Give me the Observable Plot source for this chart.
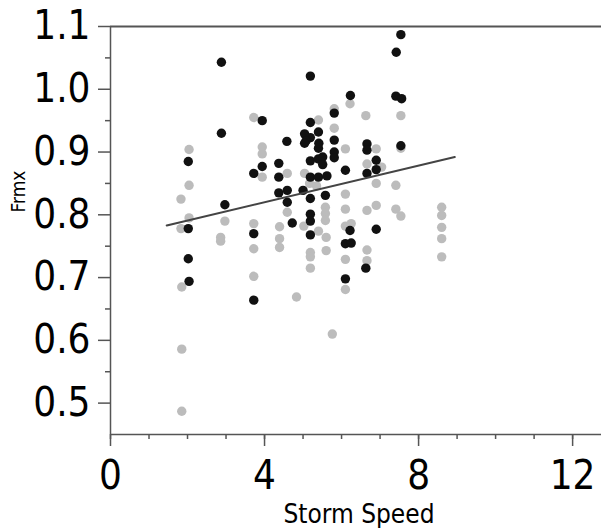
<!DOCTYPE html>
<html>
<head>
<meta charset="utf-8">
<script src="https://cdn.jsdelivr.net/npm/d3@7"></script>
<script src="https://cdn.jsdelivr.net/npm/@observablehq/plot@0.6"></script>
<style>
  html, body { margin: 0; padding: 0; background: #fff; }
</style>
</head>
<body>
<div id="chart"></div>
<script>
// Black points (Storm Speed, Frmx)
const blackX = [2.88, 3.94, 2.88, 4.58, 2.02, 3.94, 3.72, 4.37, 4.37, 2.97, 4.37, 4.59, 4.59, 2.02, 2.02, 2.04, 3.72, 3.72, 4.72,
  5.19, 6.23, 7.41, 7.56, 5.81, 5.19, 5.04, 5.19, 5.40, 5.08, 5.81, 6.66, 6.66, 5.40, 5.81, 5.81, 5.19, 5.40, 5.51, 5.51,
  6.10, 6.90, 6.90, 6.66, 5.19, 5.40, 5.62, 5.00, 5.19, 5.58, 5.19, 5.19, 5.19, 6.22, 6.10, 6.25, 6.10, 6.63, 6.90,
  7.54, 7.42, 7.54, 5.04, 5.41];
const blackY = [1.043, 0.950, 0.930, 0.917, 0.885, 0.877, 0.866, 0.882, 0.860, 0.816, 0.835, 0.839, 0.820, 0.778, 0.730, 0.694, 0.770, 0.664, 0.787,
  1.021, 0.990, 0.989, 0.985, 0.962, 0.947, 0.929, 0.923, 0.932, 0.918, 0.919, 0.913, 0.903, 0.906, 0.900, 0.891, 0.886, 0.889, 0.892, 0.880,
  0.871, 0.887, 0.872, 0.866, 0.860, 0.860, 0.862, 0.839, 0.826, 0.831, 0.801, 0.790, 0.768, 0.775, 0.754, 0.755, 0.698, 0.715, 0.777,
  1.087, 1.059, 0.910, 0.914, 0.914];

// Gray points
const grayX = [1.83, 1.83, 1.85, 1.85, 1.85, 2.04, 2.04, 2.04, 2.97, 2.86, 2.86, 3.72, 3.72, 3.72, 3.72, 3.94, 3.94, 3.94,
  4.39, 4.39, 4.39, 4.59, 4.59, 4.83, 5.04, 5.02, 5.19, 5.19, 5.19, 5.17, 5.40, 5.40, 5.35, 5.58, 5.58, 5.58, 5.60, 5.60, 5.76,
  5.81, 5.81, 6.10, 6.10, 6.10, 6.10, 6.10, 6.10, 6.22, 6.25, 6.63, 6.66, 6.66, 6.66, 6.66, 6.90, 6.90, 6.90, 7.04, 7.41, 7.41,
  7.54, 7.54, 7.54, 8.60, 8.60, 8.60, 8.60, 8.60];
const grayY = [0.825, 0.778, 0.685, 0.586, 0.487, 0.904, 0.847, 0.795, 0.790, 0.764, 0.758, 0.955, 0.786, 0.746, 0.702, 0.908, 0.897, 0.860,
  0.781, 0.762, 0.748, 0.866, 0.804, 0.669, 0.866, 0.782, 0.740, 0.733, 0.715, 0.850, 0.951, 0.774, 0.846, 0.812, 0.802, 0.791, 0.764, 0.743, 0.610,
  0.969, 0.938, 0.905, 0.833, 0.809, 0.782, 0.729, 0.681, 0.977, 0.786, 0.958, 0.881, 0.807, 0.744, 0.727, 0.905, 0.850, 0.815, 0.876, 0.847, 0.809,
  0.958, 0.906, 0.798, 0.812, 0.799, 0.780, 0.762, 0.733];

// Fitted line end points
const fitX = [1.46, 8.94];
const fitY = [0.783, 0.892];

// Axis ticks
const xTicks = [0, 4, 8, 12];
const xMinor = d3.range(0, 13);
const yTicks = [0.5, 0.6, 0.7, 0.8, 0.9, 1.0, 1.1];
const yMinor = [0.55, 0.65, 0.75, 0.85, 0.95, 1.05];

const axisColor = "#555";
const blackPts = blackX.map((x, i) => ({x, y: blackY[i]}));
const grayPts = grayX.map((x, i) => ({x, y: grayY[i]}));
const fitPts = fitX.map((x, i) => ({x, y: fitY[i]}));

const chart = Plot.plot({
  width: 601,
  height: 528,
  marginLeft: 110,
  marginRight: 0,
  marginTop: 26,
  marginBottom: 94,
  x: {domain: [0, 12.75]},
  y: {domain: [0.45, 1.1]},
  style: {fontFamily: "'DejaVu Sans Condensed', 'DejaVu Sans', sans-serif", background: "#fff", color: "#000"},
  marks: [
    Plot.dot(grayPts, {x: "x", y: "y", r: 4.7, fill: "#bcbcbc", stroke: "none"}),
    Plot.dot(blackPts, {x: "x", y: "y", r: 4.7, fill: "#111", stroke: "none"}),
    Plot.line(fitPts, {x: "x", y: "y", stroke: "#444", strokeWidth: 2}),
    Plot.ruleY([1.1], {stroke: axisColor, strokeWidth: 2}),
    Plot.ruleY([0.45], {stroke: axisColor, strokeWidth: 1.5}),
    Plot.ruleX([0], {stroke: axisColor, strokeWidth: 1.5}),
    Plot.axisX({ticks: xMinor, tickSize: 5, tickFormat: () => "", stroke: axisColor, strokeWidth: 1.5, label: null}),
    Plot.axisX({ticks: xTicks, tickSize: 12, tickPadding: 14, fontSize: 40, stroke: axisColor, strokeWidth: 1.5, tickFormat: d3.format("d"), label: null}),
    Plot.axisY({ticks: yMinor, tickSize: 5, tickFormat: () => "", stroke: axisColor, strokeWidth: 1.5, label: null}),
    Plot.axisY({ticks: yTicks, tickSize: 12, tickPadding: 8, fontSize: 40, stroke: axisColor, strokeWidth: 1.5, tickFormat: d3.format(".1f"), label: null}),
    Plot.text(["Storm Speed"], {text: d => d, frameAnchor: "bottom", dx: 3, dy: 80, fontSize: 26, lineAnchor: "middle"}),
    Plot.text(["Frmx"], {text: d => d, frameAnchor: "left", dx: -92, dy: -18, rotate: -90, fontSize: 19, lineAnchor: "middle"})
  ]
});
document.getElementById("chart").appendChild(chart);
</script>
</body>
</html>
